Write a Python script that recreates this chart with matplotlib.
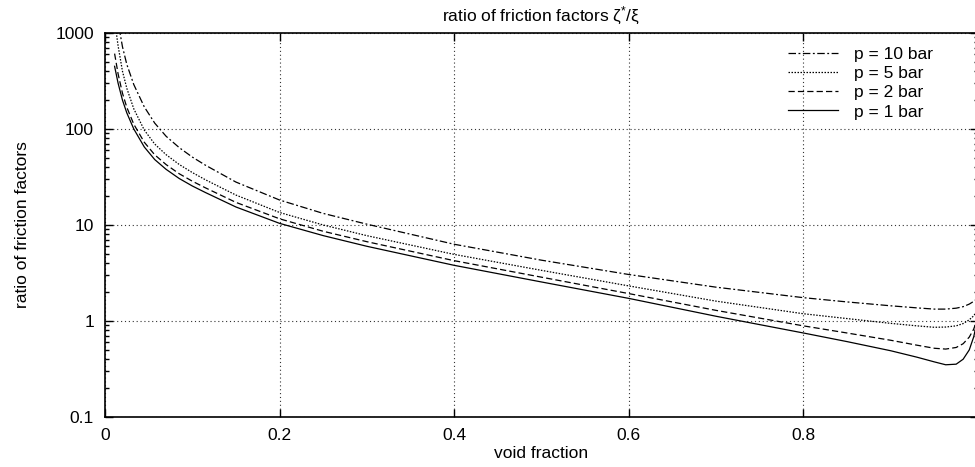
import matplotlib
matplotlib.use("Agg")
import matplotlib.pyplot as plt
from matplotlib.ticker import LogLocator, FixedLocator, NullFormatter

plt.rcParams['font.family'] = ['Liberation Sans', 'DejaVu Sans']
plt.rcParams['mathtext.fontset'] = 'custom'
plt.rcParams['mathtext.rm'] = 'Liberation Sans'
plt.rcParams['mathtext.it'] = 'Liberation Sans'

# void fraction samples shared by all curves
void_fraction = [0.011, 0.015, 0.02, 0.025, 0.033, 0.045, 0.057, 0.07, 0.085, 0.1,
                 0.115, 0.15, 0.2, 0.25, 0.3, 0.4, 0.5, 0.6, 0.7, 0.8,
                 0.85, 0.9, 0.93, 0.95, 0.963, 0.975, 0.983, 0.99, 0.995, 0.998]

# friction factor ratio for each system pressure
ratio_10bar = [2400, 1300, 720, 470, 290, 170, 115, 84, 64, 51,
               42, 28, 18.2, 13.2, 10.2, 6.3, 4.3, 3.05, 2.25, 1.75,
               1.58, 1.44, 1.37, 1.33, 1.33, 1.36, 1.41, 1.5, 1.6, 1.68]
ratio_5bar = [1350, 735, 400, 265, 162, 97.5, 69.6, 54, 42.7, 35.2,
              29.6, 20.5, 13.5, 10.0, 7.74, 4.94, 3.37, 2.32, 1.61, 1.19,
              1.06, 0.945, 0.89, 0.86, 0.865, 0.89, 0.94, 1.03, 1.13, 1.24]
ratio_2bar = [610, 375, 236, 168, 112, 72.8, 53.8, 42.6, 34.2, 28.6,
              24.4, 17.2, 11.6, 8.6, 6.7, 4.25, 2.86, 1.93, 1.29, 0.89,
              0.75, 0.63, 0.56, 0.52, 0.51, 0.53, 0.58, 0.68, 0.82, 0.98]
ratio_1bar = [450, 300, 200, 147, 100, 65, 48, 38, 30.5, 25.5,
              21.8, 15.4, 10.4, 7.75, 6.0, 3.8, 2.55, 1.72, 1.12, 0.75,
              0.61, 0.49, 0.42, 0.375, 0.35, 0.355, 0.40, 0.50, 0.68, 0.9]

labels = ['p = 10 bar', 'p = 5 bar', 'p = 2 bar', 'p = 1 bar']
x_ticks = [0, 0.2, 0.4, 0.6, 0.8, 1.0]
x_ticklabels = ['0', '0.2', '0.4', '0.6', '0.8', '']
y_ticks = [0.1, 1, 10, 100, 1000]
y_ticklabels = ['0.1', '1', '10', '100', '1000']

FS = 12.5

fig = plt.figure(figsize=(9.75, 4.67), dpi=100)
ax = fig.add_axes([105 / 975, 50 / 467, 873 / 975, 384 / 467])

styles = [(0, (6, 2, 1.5, 2)), (0, (1.2, 1.2)), (0, (5, 2.5)), '-']
series = [ratio_10bar, ratio_5bar, ratio_2bar, ratio_1bar]
for vals, ls, lab in zip(series, styles, labels):
    ax.plot(void_fraction, vals, color='black', lw=0.9, linestyle=ls, label=lab)

ax.set_yscale('log')
ax.set_xlim(0, 1.0)
ax.set_ylim(0.1, 1000)

ax.xaxis.set_major_locator(FixedLocator(x_ticks))
ax.set_xticklabels(x_ticklabels)
ax.yaxis.set_major_locator(FixedLocator(y_ticks))
ax.set_yticklabels(y_ticklabels)
ax.yaxis.set_minor_locator(LogLocator(base=10, subs=range(2, 10)))
ax.yaxis.set_minor_formatter(NullFormatter())

ax.tick_params(which='both', direction='in', top=True, right=True, labelsize=FS,
               color='black', width=1.0)
ax.tick_params(which='major', length=6, pad=8)
ax.tick_params(which='minor', length=3)
for s in ax.spines.values():
    s.set_linewidth(1.2)

ax.grid(True, which='major', color='#333333', linestyle=(0, (1, 2.5)), lw=0.8)

ax.set_title('ratio of friction factors ζ$^{*}$/ξ', fontsize=FS, pad=8.5)
ax.set_xlabel('void fraction', fontsize=FS, labelpad=2)
ax.set_ylabel('ratio of friction factors', fontsize=FS, labelpad=18)

leg = ax.legend(loc='upper left', frameon=False, fontsize=FS, handlelength=2.9,
                handletextpad=0.9, labelspacing=0.24, borderaxespad=0.0,
                borderpad=0.0, bbox_to_anchor=(0.782, 0.965))

fig.savefig('out.png', dpi=100)
